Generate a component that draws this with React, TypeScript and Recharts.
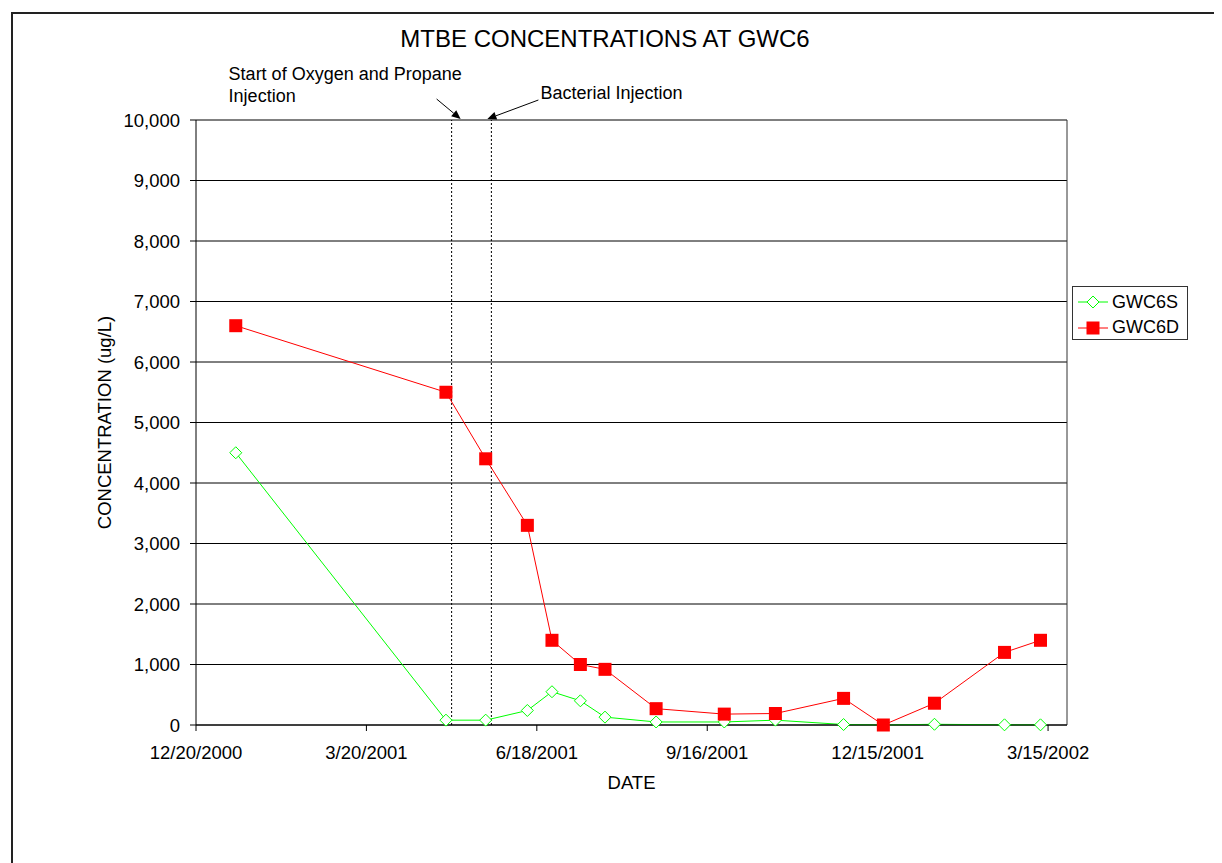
import { CartesianGrid, Line, LineChart, ReferenceLine, XAxis, YAxis } from 'recharts'

const sampleDates = [
  '1/10/2001', '5/1/2001', '5/22/2001', '6/13/2001', '6/26/2001', '7/11/2001', '7/24/2001', '8/20/2001',
  '9/25/2001', '10/22/2001', '11/27/2001', '12/18/2001', '1/14/2002', '2/20/2002', '3/11/2002',
]
const gwc6s = [4500, 80, 80, 240, 550, 400, 130, 50, 50, 80, 8, 0, 12, 3, 3]
const gwc6d = [6600, 5500, 4400, 3300, 1400, 1000, 920, 270, 180, 190, 440, 0, 360, 1200, 1400]
const xTickDates = ['12/20/2000', '3/20/2001', '6/18/2001', '9/16/2001', '12/15/2001', '3/15/2002']
const xEndDate = '3/25/2002'
const yTicks = [0, 1000, 2000, 3000, 4000, 5000, 6000, 7000, 8000, 9000, 10000]
const oxygenDate = '5/4/2001'
const bacterialDate = '5/25/2001'

const FONT = '"Liberation Sans", Arial, sans-serif'
const GREEN = '#00ff00'
const RED = '#ff0000'

const toTime = (s: string) => {
  const [m, d, y] = s.split('/').map(Number)
  return Date.UTC(y, m - 1, d)
}
const fmtDate = (t: number) => {
  const d = new Date(t)
  return `${d.getUTCMonth() + 1}/${d.getUTCDate()}/${d.getUTCFullYear()}`
}

const data = sampleDates.map((s, i) => ({ t: toTime(s), s: gwc6s[i], d: gwc6d[i] }))
const xTicks = xTickDates.map(toTime)

function Diamond(p: any) {
  const { cx, cy } = p
  if (cx == null || cy == null) return <g />
  const r = 6
  return (
    <path
      d={`M${cx},${cy - r}L${cx + r},${cy}L${cx},${cy + r}L${cx - r},${cy}Z`}
      fill="#fff"
      stroke={GREEN}
      strokeWidth={1}
    />
  )
}

function Square(p: any) {
  const { cx, cy } = p
  if (cx == null || cy == null) return <g />
  return <rect x={cx - 6.5} y={cy - 6.5} width={13} height={13} fill={RED} />
}

function Arrow({ x1, y1, x2, y2 }: { x1: number; y1: number; x2: number; y2: number }) {
  const dx = x2 - x1
  const dy = y2 - y1
  const len = Math.sqrt(dx * dx + dy * dy)
  const ux = dx / len
  const uy = dy / len
  const hl = 9
  const hw = 4
  const bx = x2 - ux * hl
  const by = y2 - uy * hl
  return (
    <g>
      <line x1={x1} y1={y1} x2={bx} y2={by} stroke="#000" strokeWidth={1} />
      <polygon
        points={`${x2},${y2} ${bx - uy * hw},${by + ux * hw} ${bx + uy * hw},${by - ux * hw}`}
        fill="#000"
      />
    </g>
  )
}

function OxygenLabel(props: any) {
  const { x, y } = props.viewBox
  return (
    <g fontFamily={FONT} fontSize={18} fill="#000">
      <text x={x - 223} y={y - 40}>Start of Oxygen and Propane</text>
      <text x={x - 223} y={y - 18}>Injection</text>
      <Arrow x1={x - 15} y1={y - 21} x2={x + 9} y2={y - 1} />
    </g>
  )
}

function BacterialLabel(props: any) {
  const { x, y } = props.viewBox
  return (
    <g fontFamily={FONT} fontSize={18} fill="#000">
      <text x={x + 49} y={y - 21}>Bacterial Injection</text>
      <Arrow x1={x + 47} y1={y - 20} x2={x - 4} y2={y - 1} />
    </g>
  )
}

export default function App() {
  return (
    <div style={{ position: 'relative', width: 1214, height: 855, overflow: 'hidden', fontFamily: FONT }}>
      <div
        style={{
          position: 'absolute', left: 3, top: 4, width: 1400, height: 1000,
          borderLeft: '2px solid #222', borderTop: '2px solid #222',
        }}
      />
      <div
        style={{
          position: 'absolute', left: 297, top: 17, width: 600, textAlign: 'center',
          fontSize: 24, lineHeight: 'normal', color: '#000',
        }}
      >
        MTBE CONCENTRATIONS AT GWC6
      </div>
      <LineChart
        width={1214}
        height={855}
        data={data}
        margin={{ top: 112, right: 155, bottom: 108, left: 88 }}
        style={{ position: 'absolute', left: 0, top: 0 }}
      >
        <CartesianGrid horizontal vertical={false} stroke="#000" strokeOpacity={1} />
        <XAxis
          dataKey="t"
          type="number"
          domain={[toTime(xTickDates[0]), toTime(xEndDate)]}
          ticks={xTicks}
          tickFormatter={fmtDate}
          height={30}
          tickSize={6}
          tickMargin={15}
          stroke="#000"
          tick={{ fill: '#000', fontSize: 18.5, fontFamily: FONT }}
          label={{ value: 'DATE', position: 'bottom', offset: 21, fill: '#000', fontSize: 18.5, fontFamily: FONT }}
        />
        <YAxis
          type="number"
          domain={[0, 10000]}
          ticks={yTicks}
          interval={0}
          width={100}
          tickSize={6}
          tickMargin={10}
          stroke="#000"
          tickFormatter={(v: number) => v.toLocaleString('en-US')}
          tick={{ fill: '#000', fontSize: 18.5, fontFamily: FONT }}
          label={{
            value: 'CONCENTRATION (ug/L)', angle: -90, position: 'insideLeft', offset: 8,
            fill: '#000', fontSize: 18.5, fontFamily: FONT, style: { textAnchor: 'middle' },
          }}
        />
        <ReferenceLine x={toTime(xEndDate)} stroke="#333" strokeWidth={1} />
        <ReferenceLine
          x={toTime(oxygenDate)}
          stroke="#000"
          strokeDasharray="2 2"
          label={OxygenLabel}
        />
        <ReferenceLine
          x={toTime(bacterialDate)}
          stroke="#000"
          strokeDasharray="2 2"
          label={BacterialLabel}
        />
        <Line
          type="linear"
          dataKey="s"
          name="GWC6S"
          stroke={GREEN}
          strokeWidth={1}
          dot={Diamond}
          activeDot={false}
          isAnimationActive={false}
        />
        <Line
          type="linear"
          dataKey="d"
          name="GWC6D"
          stroke={RED}
          strokeWidth={1}
          dot={Square}
          activeDot={false}
          isAnimationActive={false}
        />
      </LineChart>
      <div
        style={{
          position: 'absolute', left: 1064, top: 278, width: 114, height: 52,
          border: '1px solid #333', background: '#fff', fontSize: 18, color: '#000',
        }}
      >
        {[
          { name: 'GWC6S', color: GREEN, shape: 'diamond' },
          { name: 'GWC6D', color: RED, shape: 'square' },
        ].map((item, i) => (
          <div
            key={item.name}
            style={{ position: 'absolute', left: 5, top: 3 + i * 25.5, height: 24, display: 'flex', alignItems: 'center' }}
          >
            <svg width={30} height={14} style={{ marginRight: 4 }}>
              <line x1={0} y1={7} x2={30} y2={7} stroke={item.color} strokeWidth={1} />
              {item.shape === 'diamond' ? (
                <path d="M15,1L21,7L15,13L9,7Z" fill="#fff" stroke={item.color} />
              ) : (
                <rect x={8.5} y={0.5} width={13} height={13} fill={item.color} />
              )}
            </svg>
            <span>{item.name}</span>
          </div>
        ))}
      </div>
    </div>
  )
}
